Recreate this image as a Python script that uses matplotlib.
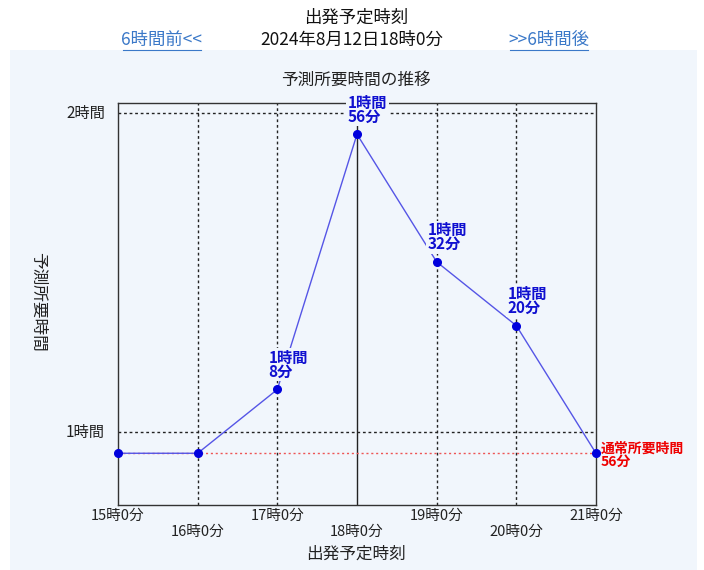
import matplotlib
matplotlib.use("Agg")
import matplotlib.pyplot as plt
from matplotlib.patches import Rectangle
import matplotlib.transforms as mtransforms

plt.rcParams['font.family'] = ['Noto Sans CJK JP', 'DejaVu Sans']

# data
hours = [15, 16, 17, 18, 19, 20, 21]
minutes = [56, 56, 68, 116, 92, 80, 56]
hour_labels = ["15時0分", "16時0分", "17時0分", "18時0分", "19時0分", "20時0分", "21時0分"]
y_ticks = [60, 120]
y_tick_labels = ["1時間", "2時間"]
normal_minutes = 56
current_hour = 18

PANEL = "#f1f6fc"
BLUE = "#1010d0"

W, H = 704, 570
fig = plt.figure(figsize=(W / 100, H / 100), dpi=100)
fig.patch.set_facecolor("white")
fig.patches.append(Rectangle((10 / W, 0), 687 / W, 520 / H, transform=fig.transFigure,
                             facecolor=PANEL, edgecolor="none", zorder=-5))

ax = fig.add_axes([118 / W, (H - 505) / H, (596 - 118) / W, (505 - 103) / H])
ax.set_zorder(2)
ax.set_facecolor("none")
ax.set_xlim(15, 21)
ax.set_ylim(46.27, 121.88)
for s in ax.spines.values():
    s.set_color("#333333")
    s.set_linewidth(1.0)

# grid lines
for h in hours[1:-1]:
    if h == current_hour:
        ax.axvline(h, color="#222222", lw=1.0, zorder=1)
    else:
        ax.axvline(h, color="#222222", lw=1.0, ls=(0, (2, 2)), zorder=1)
for yv in y_ticks:
    ax.axhline(yv, color="#222222", lw=1.0, ls=(0, (2, 2)), zorder=1)

# normal time line
ax.axhline(normal_minutes, color="#ee5555", lw=1.0, ls=(0, (1.5, 2)), zorder=2)

# series
ax.plot(hours, minutes, color="#5555e6", lw=1.0, zorder=3)
ax.plot(hours, minutes, "o", color="#0000dd", ms=5.5, zorder=4, clip_on=False)

# point labels
for i, (h, m) in enumerate(zip(hours, minutes)):
    if i == len(hours) - 1:
        ax.annotate("通常所要時間\n%d分" % m, (h, m), xytext=(3.5, -1.5), textcoords="offset points",
                    ha="left", va="center", color="#ee0000", fontsize=10, fontweight="bold",
                    linespacing=0.85, annotation_clip=False, zorder=6)
    elif m != normal_minutes:
        ax.annotate("%d時間\n%d分" % (m // 60, m % 60), (h, m), xytext=(-6.5, 7),
                    textcoords="offset points", ha="left", va="bottom", color=BLUE,
                    fontsize=11, fontweight="bold", linespacing=0.85, annotation_clip=False,
                    zorder=6, bbox=dict(boxstyle="square,pad=0.1", fc=PANEL, ec="none"))

# ticks
ax.set_xticks([])
ax.set_yticks([])
tr = mtransforms.blended_transform_factory(ax.transData, fig.transFigure)
for i, (h, lab) in enumerate(zip(hours, hour_labels)):
    ypix = 516 if i % 2 == 0 else 532
    ax.text(h, 1 - ypix / H, lab, transform=tr, ha="center", va="center", fontsize=10.5,
            color="#222222", clip_on=False)
tr2 = mtransforms.blended_transform_factory(fig.transFigure, ax.transData)
for yv, lab in zip(y_ticks, y_tick_labels):
    ax.text(105 / W, yv, lab, transform=tr2, ha="right", va="center", fontsize=11,
            color="#222222", clip_on=False)

# axis titles
fig.text(356 / W, 1 - 554 / H, "出発予定時刻", ha="center", va="center", fontsize=12, color="#222222")
fig.text(38 / W, 1 - 302 / H, "予測所要時間", ha="center", va="center", rotation=270,
         fontsize=12, color="#222222")
fig.text(356 / W, 1 - 80 / H, "予測所要時間の推移", ha="center", va="center", fontsize=12,
         color="#222222")

# header
fig.text(356 / W, 1 - 18 / H, "出発予定時刻", ha="center", va="center", fontsize=12.5, color="#111111")
fig.text(352 / W, 1 - 40 / H, "2024年8月12日18時0分", ha="center", va="center", fontsize=12.5,
         color="#111111")
fig.text(162 / W, 1 - 40 / H, "6時間前<<", ha="center", va="center", fontsize=12.5,
         color="#3a78c8")
fig.text(549 / W, 1 - 40 / H, ">>6時間後", ha="center", va="center", fontsize=12.5,
         color="#3a78c8")
for x0, x1 in [(123, 201), (510, 588)]:
    fig.add_artist(plt.Line2D([x0 / W, x1 / W], [1 - 50 / H, 1 - 50 / H], color="#3a78c8", lw=0.8))

fig.savefig("out.png", dpi=100)
